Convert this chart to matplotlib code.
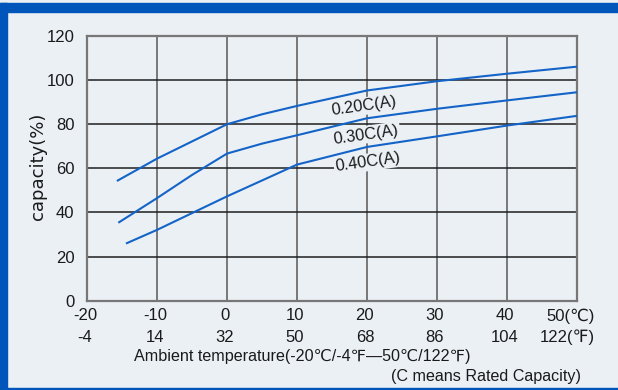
import matplotlib
matplotlib.use("Agg")
import matplotlib.pyplot as plt
from matplotlib.patches import Rectangle
from matplotlib.transforms import blended_transform_factory

# data
temp_020 = [-15.6, -10, -5, 0, 5, 10, 20, 30, 40, 50]
cap_020 = [54.5, 64.4, 72.2, 80.0, 84.5, 88.3, 95.3, 99.5, 102.9, 106.1]
temp_030 = [-15.4, -10, -5, 0, 5, 10, 20, 30, 40, 50]
cap_030 = [35.6, 46.5, 57.0, 66.7, 71.2, 75.0, 82.7, 87.0, 90.8, 94.5]
temp_040 = [-14.3, -10, -5, 0, 5, 10, 20, 30, 40, 50]
cap_040 = [26.1, 32.1, 39.7, 47.3, 54.5, 61.7, 69.7, 74.5, 79.4, 83.8]

celsius = [-20, -10, 0, 10, 20, 30, 40, 50]
c_labels = ["-20", "-10", "0", "10", "20", "30", "40", "50(\u2103)"]
f_labels = ["-4", "14", "32", "50", "68", "86", "104", "122(\u2109)"]
y_ticks = [0, 20, 40, 60, 80, 100, 120]

series = [
    ("0.20C(A)", temp_020, cap_020, (19.6, 88.2)),
    ("0.30C(A)", temp_030, cap_030, (19.9, 75.3)),
    ("0.40C(A)", temp_040, cap_040, (20.1, 62.7)),
]

bg = "#EBF0F5"
blue = "#0055BB"
line_blue = "#1464C8"
txt = "#1A1A1A"
fonts = ["Liberation Sans", "DejaVu Sans"]
nsize = 12

W, H = 618, 390
fig = plt.figure(figsize=(W / 100, H / 100), dpi=100)
fig.patch.set_facecolor(bg)

# blue frame of the picture
fig.patches.append(Rectangle((0, 1 - 11.5 / H), 1, 8.5 / H, transform=fig.transFigure,
                             color=blue, zorder=0))
fig.patches.append(Rectangle((0, 0), 6.5 / W, 1 - 3 / H, transform=fig.transFigure,
                             color=blue, zorder=0))
fig.patches.append(Rectangle((0, 0), 1, 2.5 / H, transform=fig.transFigure,
                             color=blue, zorder=0))

ax = fig.add_axes([87 / W, (H - 300.7) / H, 490 / W, 264.7 / H])
ax.set_facecolor(bg)
ax.set_xlim(-20, 50)
ax.set_ylim(0, 120)

for x in celsius[1:-1]:
    ax.axvline(x, color="#6E6E6E", lw=1.3, zorder=1)
for y in y_ticks[1:-1]:
    ax.axhline(y, color="#1E1E1E", lw=1.1, zorder=1)
for s in ax.spines.values():
    s.set_color("#777777")
    s.set_linewidth(1.6)

for label, xs, ys, (lx, ly) in series:
    ax.plot(xs, ys, color=line_blue, lw=1.5, zorder=3)
    ax.text(lx, ly, label, rotation=8, ha="center", va="center", fontsize=11.8,
            family=fonts, color=txt, zorder=4,
            bbox=dict(facecolor=bg, edgecolor="none", pad=1.0))

ax.set_xticks([])
ax.set_yticks(y_ticks)
ax.set_yticklabels([str(v) for v in y_ticks], fontsize=nsize, family=fonts, color=txt)
ax.tick_params(axis="y", length=0, pad=9)

trans = blended_transform_factory(ax.transData, fig.transFigure)
for x, c, f in zip(celsius, c_labels, f_labels):
    if x == 50:
        ax.text(x + 2.5, 1 - 316 / H, c, transform=trans, ha="right", va="center",
                fontsize=nsize, family=fonts, color=txt)
        ax.text(x + 2.5, 1 - 337 / H, f, transform=trans, ha="right", va="center",
                fontsize=nsize, family=fonts, color=txt)
    else:
        ax.text(x - 0.3, 1 - 316 / H, c, transform=trans, ha="center", va="center",
                fontsize=nsize, family=fonts, color=txt)
        ax.text(x - 0.3, 1 - 337 / H, f, transform=trans, ha="center", va="center",
                fontsize=nsize, family=fonts, color=txt)

fig.text(302 / W, 1 - 357 / H, "Ambient temperature(-20\u2103/-4\u2109\u201450\u2103/122\u2109)",
         ha="center", va="center", fontsize=11.6, family=fonts, color=txt)
fig.text(581 / W, 1 - 377 / H, "(C means Rated Capacity)", ha="right", va="center",
         fontsize=11.6, family=fonts, color=txt)
fig.text(38 / W, 1 - 166 / H, "capacity(%)", rotation=90, ha="center", va="center",
         fontsize=13, family=["DejaVu Sans"], color=txt)

fig.savefig("out.png", dpi=100, facecolor=bg)
